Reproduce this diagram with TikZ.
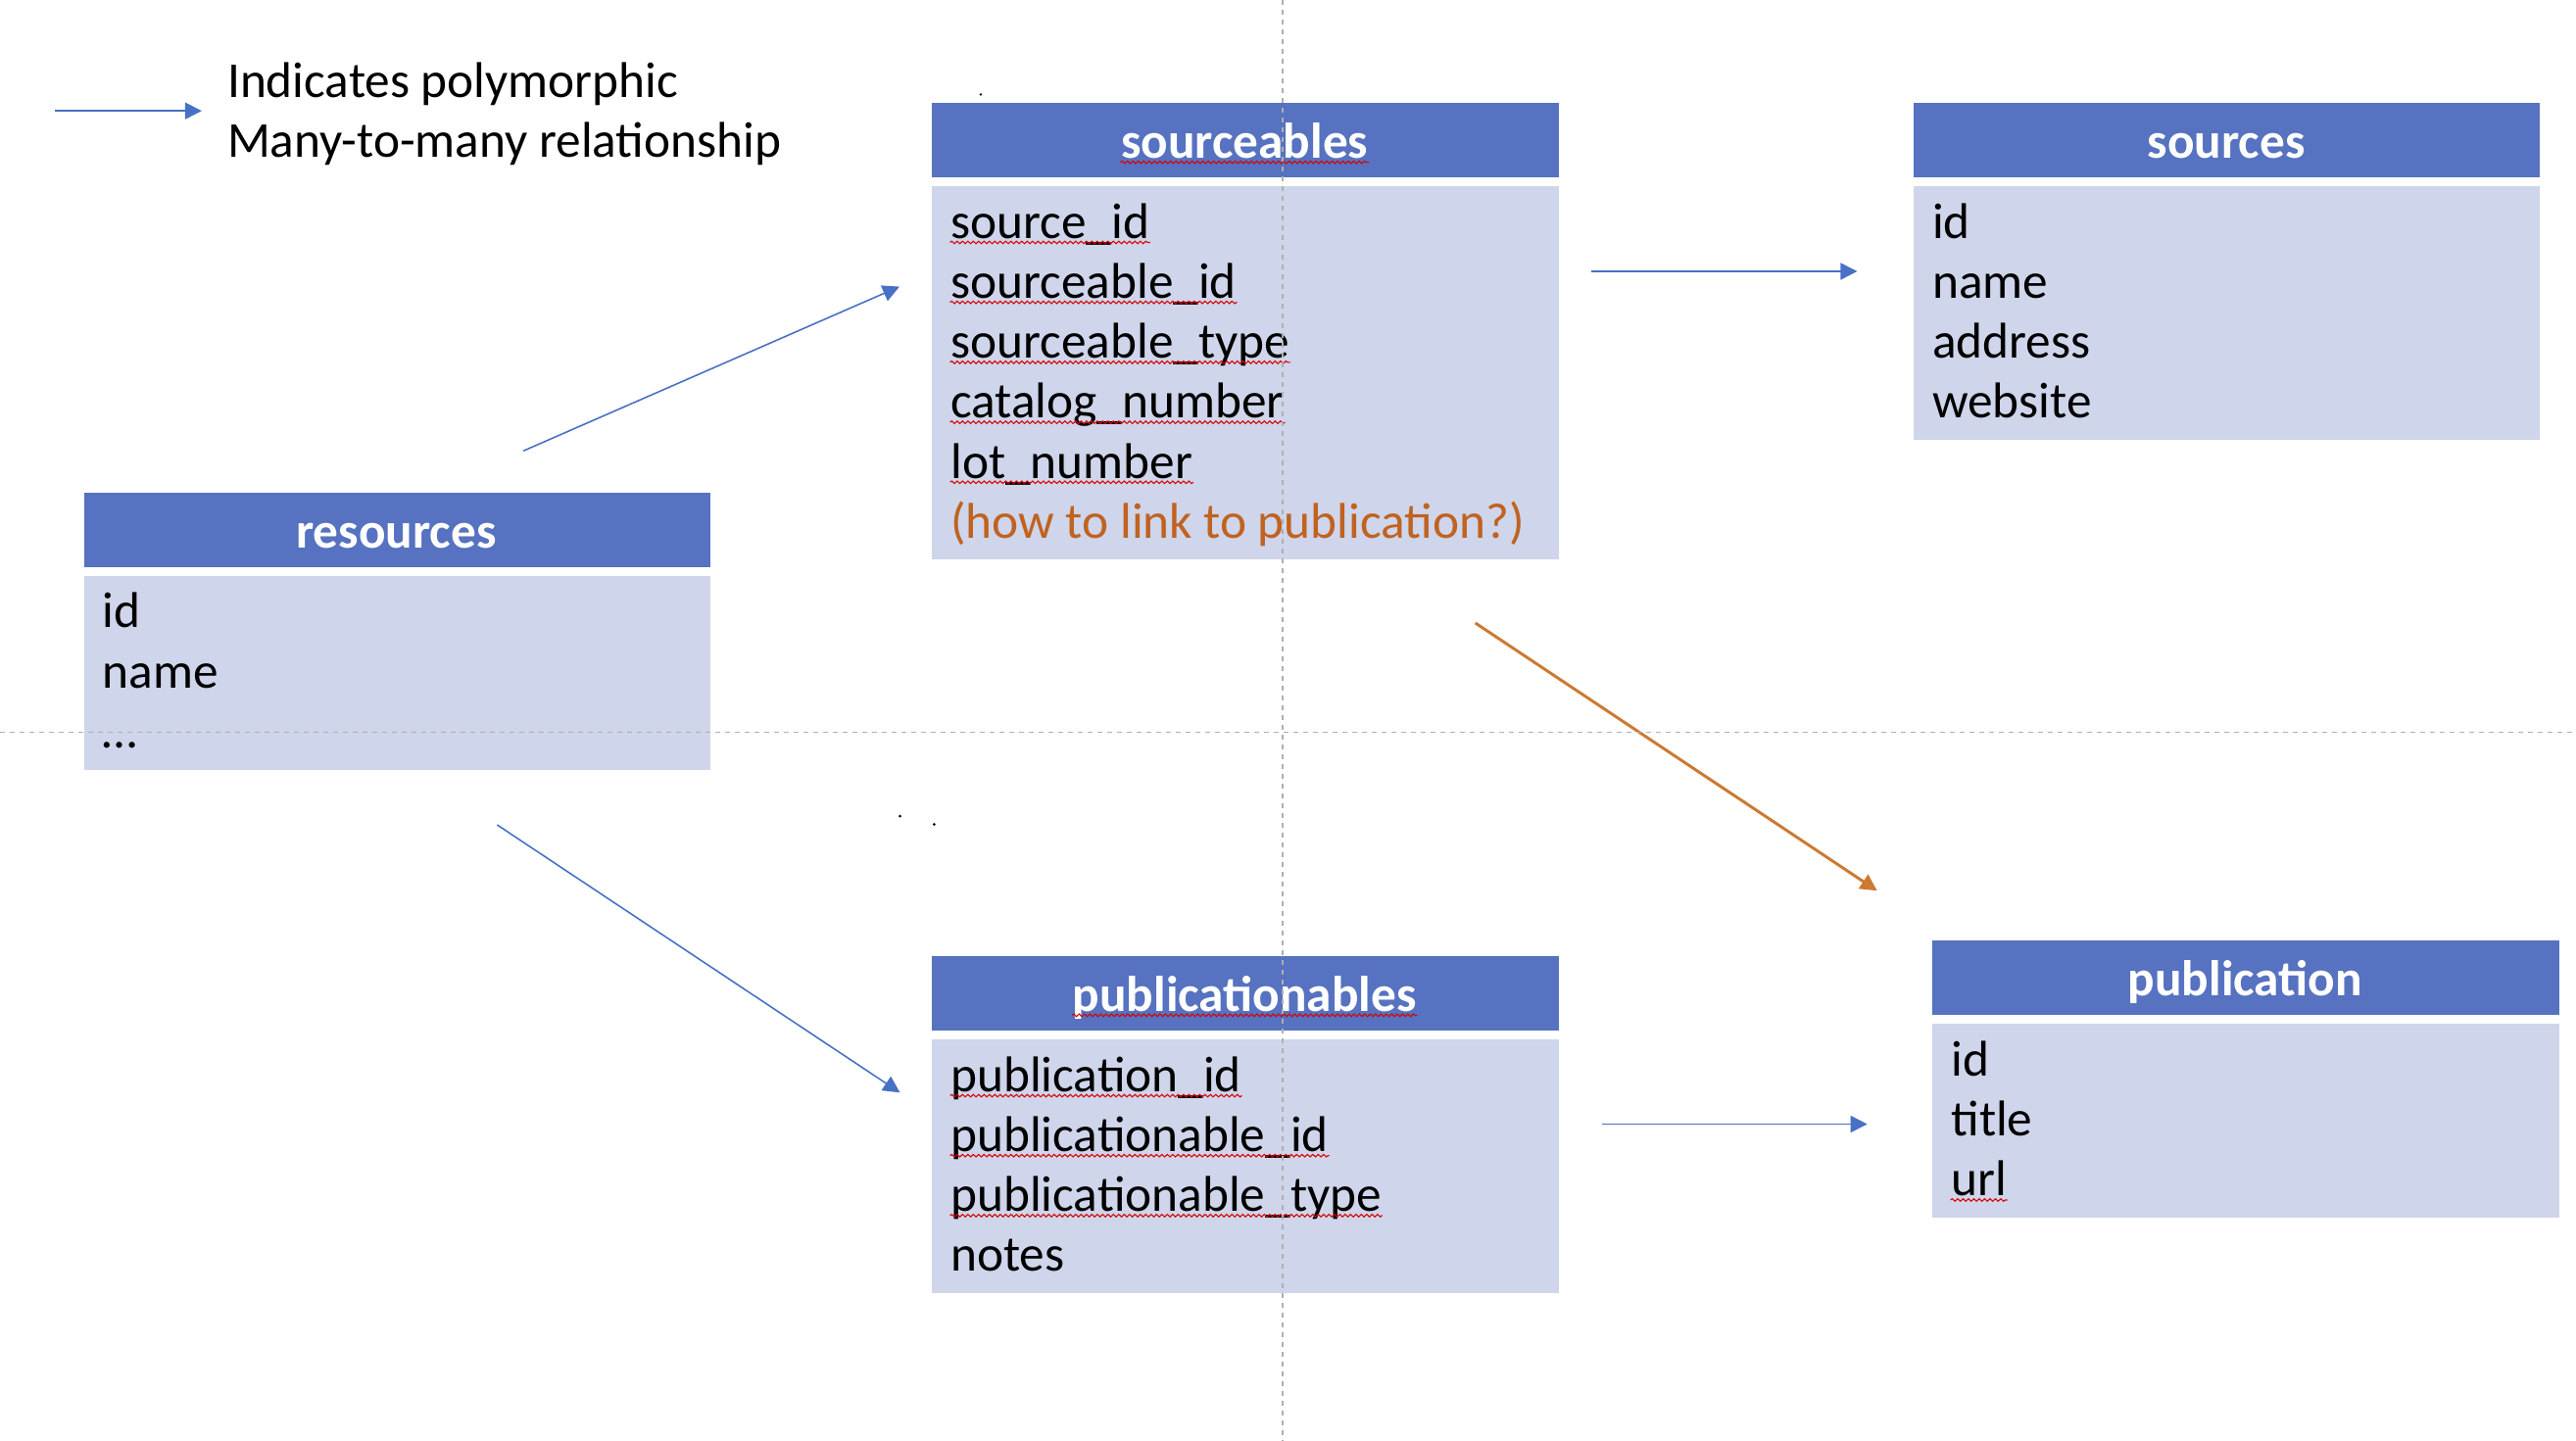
\documentclass[tikz,border=0pt]{standalone}
\usepackage{fontspec}
\setmainfont{Carlito}
\usetikzlibrary{arrows.meta,decorations.pathmorphing}
\definecolor{hdrblue}{RGB}{86,114,192}
\definecolor{rowblue}{RGB}{207,213,234}
\definecolor{linkblue}{RGB}{72,112,196}
\definecolor{askorange}{RGB}{192,98,32}
\definecolor{linkorange}{RGB}{204,122,50}
\definecolor{guidegray}{RGB}{175,175,175}

\begin{document}
\begin{tikzpicture}[x=0.16767mm,y=-0.16767mm,font=\fontsize{14.6pt}{17.6pt}\selectfont,
    hdr/.style={fill=hdrblue,minimum width=63.92mm,minimum height=7.65mm,inner sep=0,anchor=north west},
    rows/.style={fill=rowblue,minimum width=63.92mm,inner sep=0,anchor=north west},
    title/.style={text=white,font=\fontsize{14.6pt}{17.6pt}\selectfont\bfseries,anchor=base,inner sep=0},
    field/.style={anchor=base west,inner sep=0},
    link/.style={draw=linkblue,line width=0.45pt,-{Triangle[length=1.7mm,width=1.7mm]}},
    squiggle/.style={draw=red!85!black,line width=0.3pt,decorate,decoration={snake,amplitude=0.13mm,segment length=0.55mm}},
    guide/.style={draw=guidegray,line width=0.35pt,dash pattern=on 0.5mm off 0.5mm}]
    \useasboundingbox (0,0) rectangle (1568,877.3);
    % tables: name/x/y/title/body height
    \foreach \tb/\X/\Y/\ttl/\H in {srcbl/567/62.1/sourceables/227.5,src/1164.5/62.1/sources/154.5,res/50.6/299.3/resources/118,
                                   pubbl/567/581.4/publicationables/154.5,pub/1176/572.1/publication/118}
      {\node[hdr] (\tb-h) at (\X,\Y) {};
       \node[title] (\tb-t) at (\X+190.6,\Y+34.2) {\ttl};
       \node[rows,minimum height=\H*0.16767mm] (\tb-b) at (\X,\Y+50.8) {};}
    % fields
    \foreach \f [count=\i from 0] in {source\_id,sourceable\_id,sourceable\_type,catalog\_number,lot\_number}
      {\node[field] (srcbl-f\i) at (578.3,145.1+36.5*\i) {\f};}
    \node[field,text=askorange] (srcbl-f5) at (578.3,327.6) {(how to link to publication?)};
    \foreach \f [count=\i from 0] in {id,name,address,website}
      {\node[field] (src-f\i) at (1175.8,145.1+36.5*\i) {\f};}
    \foreach \f [count=\i from 0] in {id,name,\dots}
      {\node[field] (res-f\i) at (61.9,382.3+36.5*\i) {\f};}
    \foreach \f [count=\i from 0] in {publication\_id,publicationable\_id,publicationable\_type,notes}
      {\node[field] (pubbl-f\i) at (578.3,664.6+36.5*\i) {\f};}
    \foreach \f [count=\i from 0] in {id,title,url}
      {\node[field] (pub-f\i) at (1187.3,655.1+36.5*\i) {\f};}
    % spell-check marks
    \foreach \n in {srcbl-t,srcbl-f0,srcbl-f1,srcbl-f2,srcbl-f3,srcbl-f4,pubbl-t,pubbl-f0,pubbl-f1,pubbl-f2,pub-f2}
      {\draw[squiggle] ([yshift=-0.42mm]\n.base west) -- ([yshift=-0.42mm]\n.base east);}
    % legend
    \coordinate (leg-a) at (33.5,67.5);
    \coordinate (leg-b) at (122.8,67.5);
    \draw[link] (leg-a) -- (leg-b);
    \node[field] (leg1) at (138,59.4) {Indicates polymorphic};
    \node[field] (leg2) at (138,95.7) {Many-to-many relationship};
    % links
    \coordinate (res-up) at (318.6,274.5);
    \coordinate (srcbl-in) at (547.5,174.5);
    \coordinate (res-down) at (302.6,502.2);
    \coordinate (pubbl-in) at (547.8,665.2);
    \coordinate (srcbl-out) at (968.6,165.2);
    \coordinate (src-in) at (1130.5,165.2);
    \coordinate (pubbl-out) at (974.9,684.4);
    \coordinate (pub-in) at (1136.6,684.4);
    \coordinate (ask-a) at (898,379.3);
    \coordinate (ask-b) at (1142.6,542.3);
    \draw[link] (res-up) -- (srcbl-in);
    \draw[link] (res-down) -- (pubbl-in);
    \draw[link] (srcbl-out) -- (src-in);
    \draw[link] (pubbl-out) -- (pub-in);
    \draw[link,draw=linkorange,fill=linkorange,line width=0.85pt] (ask-a) -- (ask-b);
    % stray specks
    \fill (597,57.5) circle[radius=0.8];
    \fill (547.8,496.9) circle[radius=0.9];
    \fill (568.6,501.9) circle[radius=0.9];
    % guides
    \draw[guide] (780.7,0) -- (780.7,877.3);
    \draw[guide] (0,445.6) -- (1568,445.6);
\end{tikzpicture}
\end{document}
